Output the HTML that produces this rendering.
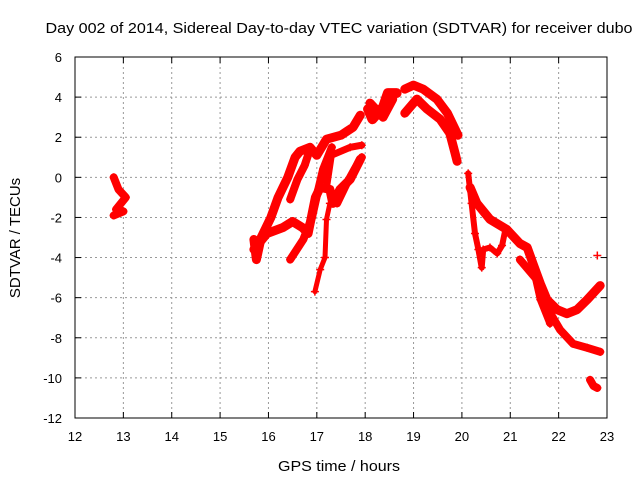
<!DOCTYPE html>
<html><head><meta charset="utf-8"><style>
body{margin:0;background:#fff}
svg{display:block;font-family:"Liberation Sans",sans-serif}
</style></head><body>
<svg id="c" width="640" height="480">
<g id="grid"></g>
<g id="series"></g>
<g id="axes"></g>
<text x="339" y="33" font-size="15" text-anchor="middle" textLength="587" lengthAdjust="spacingAndGlyphs">Day 002 of 2014, Sidereal Day-to-day VTEC variation (SDTVAR) for receiver dubo</text>
<text x="339" y="471" font-size="15" text-anchor="middle" textLength="122" lengthAdjust="spacingAndGlyphs">GPS time / hours</text>
<text transform="translate(20,238) rotate(-90)" font-size="15" text-anchor="middle">SDTVAR / TECUs</text>
</svg>
<script>
const xTicks=[12,13,14,15,16,17,18,19,20,21,22,23];
const yTicks=[6,4,2,0,-2,-4,-6,-8,-10,-12];
const traceA=[[12.8,0],[12.9,-0.6],[13.05,-1],[12.85,-1.6],[13,-1.7],[12.8,-1.9]];
const traceB=[[15.7,-3.1],[15.75,-4.1],[15.85,-3],[16.05,-2],[16.2,-1],[16.4,0],[16.55,1],[16.65,1.3],[16.86,1.5],[17,1.1],[17.2,1.9],[17.5,2.1],[17.75,2.5],[17.9,3.1]];
const traceC=[[15.7,-3.6],[15.97,-2.8],[16.3,-2.5],[16.5,-2.2],[16.7,-2.5],[16.82,-2.8],[16.97,-1],[17.07,-0.5],[17.27,-0.6],[17.33,-1.3],[17.48,-0.6],[17.69,-0.1],[17.9,0.9]];
const traceD=[[16.45,-4.1],[16.72,-3.1],[16.9,-2],[17.03,-0.6],[17.13,0.4],[17.31,1.5]];
const traceE=[[16.45,-1.1],[16.6,-0.1],[16.75,0.6],[16.86,1.4]];
const traceF=[[16.96,-5.7],[17.07,-4.6],[17.17,-4],[17.2,-2.1],[17.27,-1.3]];
const traceG=[[17.42,-1.3],[17.62,-0.3],[17.78,0.4],[17.93,1]];
const traceG2=[[17.2,-0.5],[17.3,1.1],[17.69,1.5],[17.93,1.6]];
const traceH=[[18.06,3.4],[18.15,2.9],[18.37,3.5],[18.47,4.2],[18.65,4.2]];
const traceH2=[[18.1,3.7],[18.37,3.0],[18.57,3.9]];
const traceI=[[18.82,4.4],[19.0,4.6],[19.2,4.4],[19.48,3.9],[19.7,3.2],[19.86,2.4],[19.92,2.1]];
const traceI2=[[18.82,3.2],[19.07,3.9],[19.28,3.4],[19.55,2.9],[19.75,2.2],[19.86,1.2],[19.9,0.8]];
const traceJ=[[20.13,0.2],[20.2,-1.3],[20.27,-2.8],[20.34,-3.6],[20.41,-4.5],[20.44,-3.6],[20.58,-3.5],[20.73,-3.8],[20.83,-3.4],[20.9,-2.6]];
const traceK=[[20.17,-0.5],[20.31,-1.3],[20.58,-2.1],[20.93,-2.6],[21.2,-3.3],[21.35,-3.5],[21.47,-4.3],[21.62,-5.3],[21.76,-6.1],[21.97,-6.6],[22.17,-6.8],[22.38,-6.6],[22.59,-6.1],[22.86,-5.4]];
const traceL=[[21.2,-4.1],[21.55,-5.1],[21.76,-6.5],[22.03,-7.6],[22.3,-8.3],[22.59,-8.5],[22.86,-8.7]];
const traceM=[[21.47,-4.5],[21.62,-6.1],[21.82,-7.3]];
const traceN=[[22.8,-3.9]];
const traceO=[[22.65,-10.1],[22.72,-10.4],[22.8,-10.5]];
const X0=75,X1=607,Y0=57,Y1=418;
const xs=h=>X0+(h-12)*(X1-X0)/11;
const ys=v=>Y0+(6-v)*(Y1-Y0)/18;
const NS='http://www.w3.org/2000/svg';
const mk=(t,a,p)=>{const e=document.createElementNS(NS,t);for(const k in a)e.setAttribute(k,a[k]);p.appendChild(e);return e;};
const grid=document.getElementById('grid'),axes=document.getElementById('axes'),ser=document.getElementById('series');
xTicks.forEach(t=>{const x=xs(t);
 if(t>12&&t<23){const l=mk('line',{x1:x,x2:x,y1:Y0,y2:Y1,stroke:'#999','stroke-dasharray':'2,3'},grid);
 
 }
 mk('line',{x1:x,x2:x,y1:Y1,y2:Y1-6,stroke:'#000'},axes);mk('line',{x1:x,x2:x,y1:Y0,y2:Y0+6,stroke:'#000'},axes);
 const tx=mk('text',{x:x,y:Y1+23,'font-size':13,'text-anchor':'middle'},axes);tx.textContent=t;
 
 });
yTicks.forEach(t=>{const y=ys(t);
 if(t<6&&t>-12){const l=mk('line',{x1:X0,x2:X1,y1:y,y2:y,stroke:'#999','stroke-dasharray':'2,3'},grid);
 
 }
 mk('line',{x1:X0,x2:X0+6,y1:y,y2:y,stroke:'#000'},axes);mk('line',{x1:X1,x2:X1-6,y1:y,y2:y,stroke:'#000'},axes);
 const tx=mk('text',{x:X0-13,y:y+5,'font-size':13,'text-anchor':'end'},axes);tx.textContent=t;
 
 });
const b=mk('rect',{x:X0,y:Y0,width:X1-X0,height:Y1-Y0,fill:'none',stroke:'#000'},axes);


const traces=[[traceA,8],[traceB,9],[traceC,9],[traceD,8],[traceE,8],[traceF,5],[traceG,8],[traceG2,7],[traceH,10],[traceH2,9],[traceI,9],[traceI2,9],[traceJ,6],[traceK,9],[traceL,8],[traceM,7],[traceN,4],[traceO,8]];
traces.forEach(([d,w],i)=>{
 const pts=d.map(p=>xs(p[0]).toFixed(1)+','+ys(p[1]).toFixed(1)).join(' ');
 const pl=mk('polyline',{points:pts,fill:'none',stroke:'#f00','stroke-width':w,'stroke-linejoin':'round','stroke-linecap':'round'},ser);
 
 
 d.forEach(p=>{const x=xs(p[0]),y=ys(p[1]);
  const m=mk('path',{d:`M${x-4},${y}h8M${x},${y-4}v8`,stroke:'#f00','stroke-width':1.5},ser);
  
  });
});
</script>
</body></html>
